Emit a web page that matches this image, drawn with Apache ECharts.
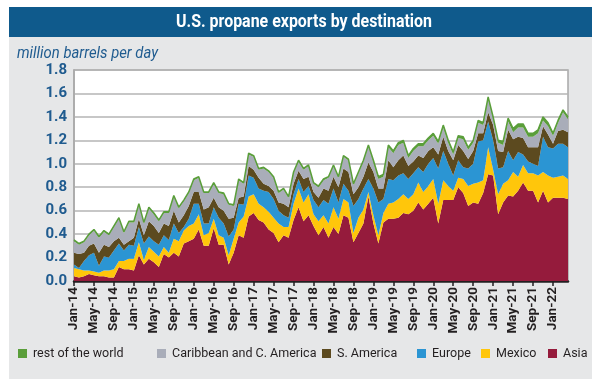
<!DOCTYPE html>
<html><head><meta charset="utf-8">
<script src="https://cdn.jsdelivr.net/npm/echarts@6/dist/echarts.min.js"></script>
<style>html,body{margin:0;padding:0;background:#fff}#c{width:600px;height:385px}</style>
</head><body><div id="c"></div>
<script>
const chartTitle = 'U.S. propane exports by destination';
const unitLabel = 'million barrels per day';
const monthNames = ['Jan','Feb','Mar','Apr','May','Jun','Jul','Aug','Sep','Oct','Nov','Dec'];
const firstYear = 14, pointCount = 100; // Jan-14 .. Apr-22
const categories = [];
for (let k = 0; k < pointCount; k++) categories.push(monthNames[k % 12] + '-' + (firstYear + Math.floor(k / 12)));
const yTicks = [0, 0.2, 0.4, 0.6, 0.8, 1.0, 1.2, 1.4, 1.6, 1.8];

const seriesNames = ['Asia', 'Mexico', 'Europe', 'S. America', 'Caribbean and C. America', 'rest of the world'];
const legendOrder = ['rest of the world', 'Caribbean and C. America', 'S. America', 'Europe', 'Mexico', 'Asia'];

const asia = [
 .04,.03,.04,.06,.05,.04,.04,.03,.03,.12,
 .10,.10,.09,.22,.14,.19,.16,.12,.23,.20,
 .24,.21,.32,.34,.36,.44,.30,.30,.45,.31,
 .31,.14,.24,.39,.37,.55,.58,.52,.50,.44,
 .41,.33,.39,.37,.52,.63,.51,.56,.47,.39,
 .46,.37,.46,.40,.56,.54,.33,.41,.49,.72,
 .49,.32,.50,.53,.53,.54,.58,.57,.60,.67,
 .61,.66,.71,.49,.69,.69,.69,.80,.75,.64,
 .67,.66,.75,.91,.90,.57,.67,.73,.72,.77,
 .84,.77,.77,.67,.77,.67,.71,.71,.71,.70];
const mexico = [
 .07,.07,.05,.03,.03,.03,.05,.06,.07,.05,
 .07,.09,.10,.11,.04,.10,.09,.09,.06,.04,
 .12,.13,.11,.13,.13,.13,.09,.11,.08,.08,
 .06,.08,.12,.11,.18,.17,.16,.14,.13,.15,
 .13,.16,.07,.09,.14,.16,.16,.18,.10,.12,
 .10,.12,.17,.13,.14,.13,.08,.13,.12,.04,
 .07,.07,.08,.13,.14,.16,.16,.13,.14,.17,
 .15,.15,.16,.17,.17,.12,.08,.08,.12,.17,
 .16,.18,.11,.23,.05,.17,.16,.13,.21,.12,
 .15,.15,.15,.23,.16,.23,.17,.18,.19,.17];
const europe = [
 .03,.01,.08,.13,.16,.06,.12,.11,.16,.15,
 .09,.12,.11,.13,.14,.09,.09,.10,.10,.11,
 .13,.07,.03,.06,.17,.09,.10,.08,.10,.15,
 .12,.16,.08,.16,.10,.18,.14,.13,.14,.17,
 .16,.11,.10,.08,.08,.08,.09,.07,.12,.12,
 .13,.17,.16,.14,.13,.10,.23,.16,.18,.11,
 .23,.28,.12,.21,.19,.20,.18,.17,.18,.13,
 .17,.19,.18,.30,.25,.19,.13,.15,.10,.15,
 .17,.35,.34,.22,.25,.22,.14,.25,.10,.21,
 .09,.10,.08,.08,.30,.24,.25,.28,.27,.27];
const sAmerica = [
 .10,.12,.07,.08,.08,.11,.10,.09,.08,.05,
 .05,.03,.07,.07,.07,.13,.13,.10,.10,.12,
 .11,.09,.10,.11,.10,.10,.12,.14,.08,.09,
 .11,.15,.10,.05,.07,.08,.07,.09,.06,.05,
 .07,.07,.10,.09,.09,.07,.11,.08,.07,.08,
 .10,.11,.10,.13,.13,.16,.10,.10,.10,.14,
 .14,.12,.09,.16,.11,.13,.15,.11,.10,.10,
 .12,.11,.09,.12,.12,.11,.13,.13,.14,.08,
 .11,.07,.06,.08,.13,.15,.13,.18,.18,.13,
 .14,.12,.14,.16,.09,.11,.04,.11,.12,.13];
const caribbean = [
 .10,.08,.09,.09,.11,.13,.11,.10,.12,.16,
 .10,.16,.13,.12,.10,.11,.10,.10,.09,.11,
 .12,.12,.12,.11,.10,.12,.14,.12,.12,.12,
 .14,.12,.10,.15,.11,.10,.11,.07,.13,.12,
 .11,.08,.12,.08,.09,.08,.08,.09,.07,.09,
 .07,.11,.09,.08,.10,.10,.08,.12,.13,.14,
 .08,.08,.10,.11,.12,.13,.11,.07,.09,.08,
 .10,.09,.10,.09,.08,.07,.05,.06,.10,.08,
 .07,.09,.07,.11,.05,.07,.06,.07,.06,.08,
 .09,.09,.09,.12,.05,.07,.07,.07,.15,.11];
const restOfWorld = [
 .01,.01,.01,.01,.01,.01,.01,.01,.01,.01,
 .01,.01,.01,.01,.01,.01,.01,.01,.01,.01,
 .01,.01,.01,.01,.01,.01,.01,.01,.01,.01,
 .01,.01,.01,.01,.01,.01,.01,.01,.01,.01,
 .01,.01,.01,.01,.01,.01,.01,.01,.01,.01,
 .01,.01,.01,.01,.01,.01,.01,.01,.01,.01,
 .02,.02,.02,.02,.02,.02,.02,.02,.02,.02,
 .02,.02,.02,.02,.02,.02,.02,.02,.02,.02,
 .02,.02,.02,.02,.02,.02,.03,.03,.03,.03,
 .03,.03,.03,.03,.03,.03,.02,.02,.02,.02];

const seriesValues = [asia, mexico, europe, sAmerica, caribbean, restOfWorld];
const seriesColors = ['#951b3c', '#ffc60b', '#2b95d3', '#5c4a1f', '#a9adb9', '#5a9e3a'];

const FONT = 'Roboto, "DejaVu Sans", sans-serif';
function measure(text, font) {
  const c = document.createElement('canvas').getContext('2d');
  c.font = font; return c.measureText(text).width;
}
const titleScale = 256 / measure(chartTitle, 'bold 19px Roboto');
const unitScale = 141 / measure(unitLabel, 'italic 16px Roboto');

const legendX = [18, 157, 322, 417, 481, 548];

const chart = echarts.init(document.getElementById('c'), null, {renderer: 'canvas'});
chart.setOption({
  animation: false,
  backgroundColor: '#ffffff',
  graphic: [
    {type: 'rect', z: -10, shape: {x: 9, y: 36, width: 583, height: 343}, style: {fill: '#e6e7e8'}},
    {type: 'rect', z: -9, shape: {x: 9, y: 7, width: 583, height: 30}, style: {fill: '#0f5a8c'}},
    {type: 'text', z: 100, x: 304, y: 22, scaleX: titleScale,
     style: {text: chartTitle, align: 'center', verticalAlign: 'middle', fontFamily: 'Roboto', fontWeight: 'bold', fontSize: 19, fill: '#ffffff'}},
    {type: 'text', z: 100, x: 17, y: 54, scaleX: unitScale,
     style: {text: unitLabel, align: 'left', verticalAlign: 'middle', fontFamily: 'Roboto', fontStyle: 'italic', fontSize: 16, fill: '#1f5b8f'}}
  ],
  legend: legendOrder.map((name, k) => ({
    data: [name], left: legendX[k], top: 347, icon: 'rect', itemWidth: 9, itemHeight: 9, itemGap: 0,
    padding: 0, textStyle: {fontFamily: FONT, fontSize: 12.5, color: '#231f20', padding: [0, 0, 0, 1]},
    selectedMode: false
  })),
  grid: {left: 74, right: 32, top: 70, bottom: 104, show: true, backgroundColor: '#ffffff', borderColor: '#a8a8a8', borderWidth: 1.5, containLabel: false},
  xAxis: {
    type: 'category', data: categories, boundaryGap: false,
    axisLine: {lineStyle: {color: '#231f20', width: 2.5}},
    axisTick: {interval: 3, length: 5, lineStyle: {color: '#231f20', width: 1.5}},
    axisLabel: {interval: 3, rotate: 90, margin: 6, fontFamily: FONT, fontWeight: 'bold', fontSize: 13.5, color: '#231f20'},
    splitLine: {show: false}
  },
  yAxis: {
    type: 'value', min: yTicks[0], max: yTicks[yTicks.length - 1], interval: 0.2,
    axisLine: {show: true, lineStyle: {color: '#a8a8a8', width: 1.5}},
    axisTick: {show: false},
    axisLabel: {margin: 7, fontFamily: FONT, fontWeight: 'bold', fontSize: 15, color: '#1f5b8f', formatter: v => v.toFixed(1)},
    splitLine: {lineStyle: {color: '#b4b4b4', width: 1.5}}
  },
  series: seriesNames.map((name, k) => ({
    name, type: 'line', stack: 'total', data: seriesValues[k], symbol: 'none',
    itemStyle: {color: seriesColors[k]},
    lineStyle: {width: k === 5 ? 1.5 : 0, color: seriesColors[k]},
    areaStyle: {color: seriesColors[k], opacity: 1},
    z: 2 + k
  }))
});
</script></body></html>
